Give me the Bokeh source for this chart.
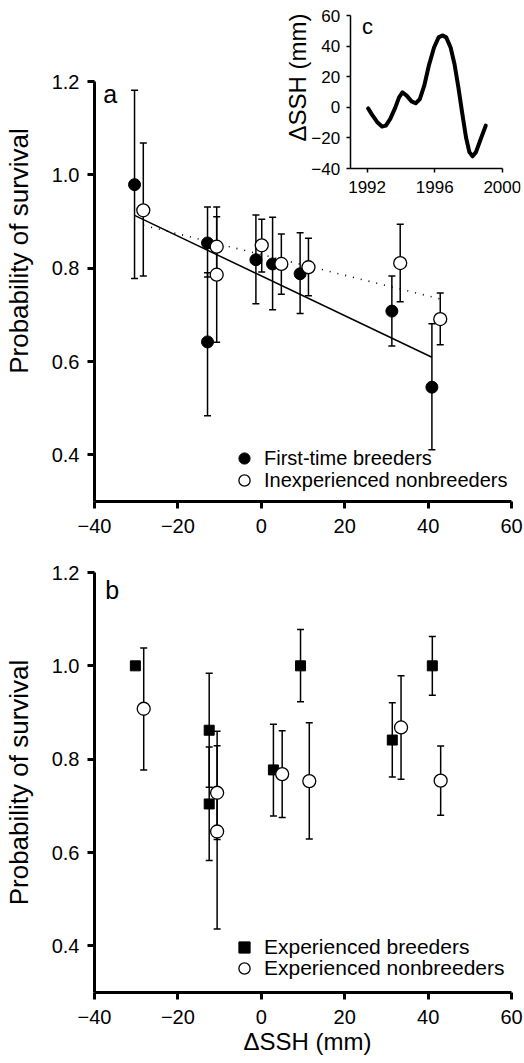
import numpy as np
from bokeh.plotting import figure
from bokeh.models import (ColumnDataSource, Range1d, LinearAxis, FixedTicker, Whisker,
                          TeeHead, Legend, LegendItem, Label, NumeralTickFormatter)
from bokeh.layouts import column
from bokeh.embed import file_html
from bokeh.resources import INLINE

FONT = "Liberation Sans"

# ---------------- data: panel a ----------------
ftb_x = [-30.4, -12.9, -12.9, -1.3, 2.7, 9.3, 31.3, 40.9]
ftb_y = [0.979, 0.854, 0.642, 0.818, 0.809, 0.788, 0.708, 0.545]
ftb_lo = [0.778, 0.781, 0.484, 0.724, 0.711, 0.703, 0.633, 0.411]
ftb_hi = [1.181, 0.931, 0.790, 0.914, 0.909, 0.876, 0.783, 0.681]

inb_x = [-28.3, -10.7, -10.7, 0.1, 4.8, 11.3, 33.3, 42.9]
inb_y = [0.924, 0.846, 0.786, 0.849, 0.809, 0.802, 0.811, 0.691]
inb_lo = [0.783, 0.780, 0.641, 0.792, 0.744, 0.741, 0.728, 0.636]
inb_hi = [1.068, 0.931, 0.910, 0.905, 0.873, 0.864, 0.894, 0.747]

fit_ftb_x = [-30.4, 40.9]
fit_ftb_y = [0.913, 0.609]
fit_inb_x = [-28.3, 42.9]
fit_inb_y = [0.892, 0.734]

# ---------------- data: panel b ----------------
eb_x = [-30.2, -12.5, -12.5, 2.9, 9.4, 31.4, 41.0]
eb_y = [1.000, 0.862, 0.704, 0.777, 1.000, 0.841, 1.000]
eb_lo = [None, 0.740, 0.583, 0.678, 0.923, 0.762, 0.937]
eb_hi = [None, 0.984, 0.826, 0.875, 1.078, 0.921, 1.063]

enb_x = [-28.2, -10.6, -10.6, 5.0, 11.5, 33.5, 43.0]
enb_y = [0.908, 0.728, 0.645, 0.768, 0.753, 0.868, 0.754]
enb_lo = [0.777, 0.628, 0.436, 0.675, 0.629, 0.757, 0.680]
enb_hi = [1.038, 0.860, 0.829, 0.861, 0.878, 0.979, 0.828]

# ---------------- data: inset c ----------------
inset_year = [1992.06, 1992.29, 1992.59, 1992.88, 1993.11, 1993.37, 1993.66, 1993.89,
              1994.09, 1994.34, 1994.63, 1994.87, 1995.12, 1995.38, 1995.65, 1995.96,
              1996.23, 1996.45, 1996.68, 1996.94, 1997.17, 1997.40, 1997.62, 1997.85,
              1998.05, 1998.24, 1998.44, 1998.69, 1999.02]
inset_ssh = [-0.7, -4.8, -9.6, -12.6, -12.0, -7.6, -0.4, 6.5,
             9.8, 7.6, 3.9, 2.6, 5.4, 14.1, 27.2, 39.1,
             45.7, 47.0, 45.7, 39.1, 28.3, 13.0, -3.3, -19.6,
             -29.3, -32.0, -29.3, -21.7, -12.0]

x_ticks = [-40, -20, 0, 20, 40, 60]
y_ticks = [0.4, 0.6, 0.8, 1.0, 1.2]
inset_x_ticks = [1992, 1996, 2000]
inset_y_ticks = [-40, -20, 0, 20, 40, 60]
minus = {t: ("\u2212" + str(abs(t)) if t < 0 else str(t)) for t in x_ticks + inset_y_ticks}

# ---------------- layout constants (pixels) ----------------
W = 524
BL, BR = 91, 4
FW = W - BL - BR
PX_PER_X = 420 / 100.0
X0, X1 = -40, 60
A_H, A_BT, A_BB = 544, 0, 43
B_H, B_BT, B_BB = 519, 28, 71
PX_PER_Y = 420 / 0.9
A_FH = A_H - A_BT - A_BB
# inset placement inside frame of panel a (frame-relative pixels)
IN_LEFT, IN_RIGHT = 257.5, 410.7       # 1991 .. 2000
IN_TOP, IN_BOTTOM = 15.0, 168.0        # 60 .. -40
IN_X0, IN_X1 = 1991, 2000
IN_Y0, IN_Y1 = -40, 60


def base_fig(height, bt, bb, y_end):
    p = figure(width=W, height=height, output_backend="svg", toolbar_location=None,
               x_range=Range1d(X0, X0 + FW / PX_PER_X), y_range=Range1d(0.3, y_end),
               x_axis_type=None, y_axis_type=None,
               min_border_left=BL, min_border_right=BR, min_border_top=bt, min_border_bottom=bb)
    p.grid.visible = False
    p.outline_line_color = None
    p.background_fill_color = "white"
    p.border_fill_color = "white"
    return p


def style_axis(ax, font_size, lw, tick_out, standoff):
    ax.axis_line_width = lw
    ax.axis_line_color = "black"
    ax.major_tick_line_width = lw
    ax.major_tick_line_color = "black"
    ax.major_tick_in = 0
    ax.major_tick_out = tick_out
    ax.minor_tick_line_color = None
    ax.major_label_text_font = FONT
    ax.major_label_text_font_size = font_size
    ax.major_label_text_color = "black"
    ax.major_label_standoff = standoff
    ax.axis_label_text_font = FONT
    ax.axis_label_text_font_style = "normal"
    ax.axis_label_text_color = "black"


def label_axis(text, size, standoff, bounds, **kw):
    """An axis that carries only a title (no line, no ticks)."""
    ax = LinearAxis(ticker=FixedTicker(ticks=[]), axis_label=text, bounds=bounds, **kw)
    ax.axis_line_color = None
    ax.major_tick_line_color = None
    ax.minor_tick_line_color = None
    ax.axis_label_text_font = FONT
    ax.axis_label_text_font_style = "normal"
    ax.axis_label_text_color = "black"
    ax.axis_label_text_font_size = size
    ax.axis_label_standoff = standoff
    return ax


def main_axes(p, xlabel=None, y_bounds=None, ylabel_bounds=None):
    xa = LinearAxis(ticker=FixedTicker(ticks=x_ticks), major_label_overrides=minus,
                    bounds=(X0, X1))
    style_axis(xa, "20px", 3, 7, 10)
    if xlabel:
        xa.axis_label = xlabel
        xa.axis_label_text_font_size = "24px"
        xa.axis_label_standoff = 1
    p.add_layout(xa, "below")
    ya = LinearAxis(ticker=FixedTicker(ticks=y_ticks), formatter=NumeralTickFormatter(format="0.0"))
    style_axis(ya, "20px", 3, 7, 8)
    if y_bounds:
        ya.bounds = y_bounds
    p.add_layout(ya, "left")
    p.add_layout(label_axis("Probability of survival", "26px", 15, ylabel_bounds or (0.3, 1.2)), "left")


def errorbars(p, xs, lo, hi):
    keep = [i for i in range(len(xs)) if lo[i] is not None]
    src = ColumnDataSource(dict(x=[xs[i] for i in keep], lower=[lo[i] for i in keep],
                                upper=[hi[i] for i in keep]))
    w = Whisker(base="x", lower="lower", upper="upper", source=src, line_width=1.5,
                line_color="black",
                upper_head=TeeHead(size=7, line_width=1.5, line_color="black"),
                lower_head=TeeHead(size=7, line_width=1.5, line_color="black"))
    p.add_layout(w)


def legend_entry(p, label, renderer, loc, size):
    lg = Legend(items=[LegendItem(label=label, renderers=[renderer])], location=loc,
                label_text_font=FONT, label_text_font_size=size,
                label_text_color="black", glyph_width=28, glyph_height=28, label_height=28,
                label_standoff=6, spacing=0, padding=0, margin=0,
                border_line_color=None, background_fill_alpha=0)
    p.add_layout(lg)


# ================= panel a =================
a_yend = 0.3 + A_FH / PX_PER_Y
pa = base_fig(A_H, A_BT, A_BB, a_yend)
main_axes(pa, y_bounds=(0.3, 1.2), ylabel_bounds=(0.4, 1.2))

errorbars(pa, ftb_x, ftb_lo, ftb_hi)
errorbars(pa, inb_x, inb_lo, inb_hi)
pa.line(fit_ftb_x, fit_ftb_y, line_color="black", line_width=1.5)
pa.line(fit_inb_x, fit_inb_y, line_color="black", line_width=1.6, line_dash="1 7")
r_ftb = pa.scatter(ftb_x, ftb_y, marker="circle", size=12, fill_color="black", line_color="black")
r_inb = pa.scatter(inb_x, inb_y, marker="circle", size=13, fill_color="white",
                   line_color="black", line_width=1.3)
legend_entry(pa, "First-time breeders", r_ftb, (136, 29), "20px")
legend_entry(pa, "Inexperienced nonbreeders", r_inb, (136, 7), "20px")
pa.add_layout(Label(x=-37.9, y=1.1736, text="a", text_font=FONT, text_font_size="25px",
                    text_baseline="alphabetic", text_color="black"))

# inset c (own ranges laid over panel a's frame)
ppx = (IN_RIGHT - IN_LEFT) / (IN_X1 - IN_X0)
ix0 = IN_X0 - IN_LEFT / ppx
ix1 = ix0 + FW / ppx
ppy = (IN_BOTTOM - IN_TOP) / (IN_Y1 - IN_Y0)
iy1 = IN_Y1 + IN_TOP / ppy
iy0 = iy1 - A_FH / ppy
pa.extra_x_ranges = {"ix": Range1d(ix0, ix1)}
pa.extra_y_ranges = {"iy": Range1d(iy0, iy1)}

pa.line(inset_year, inset_ssh, x_range_name="ix", y_range_name="iy", line_color="black",
        line_width=4, line_cap="round", line_join="round")

iya = LinearAxis(x_range_name="ix", y_range_name="iy", fixed_location=IN_X0, bounds=(IN_Y0, IN_Y1),
                 ticker=FixedTicker(ticks=inset_y_ticks), major_label_overrides=minus)
style_axis(iya, "17px", 1.5, 4, 6)
pa.add_layout(iya, "left")
pa.add_layout(label_axis("\u0394SSH (mm)", "24px", 40, (-21, IN_Y1), x_range_name="ix",
                         y_range_name="iy", fixed_location=IN_X0), "left")
ixa = LinearAxis(x_range_name="ix", y_range_name="iy", fixed_location=IN_Y0, bounds=(IN_X0, IN_X1),
                 ticker=FixedTicker(ticks=inset_x_ticks))
style_axis(ixa, "17px", 1.5, 4, 8)
pa.add_layout(ixa, "below")
pa.add_layout(Label(x=1991.7, y=52.8, x_range_name="ix", y_range_name="iy", text="c",
                    text_font=FONT, text_font_size="22px", text_baseline="alphabetic",
                    text_color="black"))

# ================= panel b =================
pb = base_fig(B_H, B_BT, B_BB, 1.2)
main_axes(pb, xlabel="\u0394SSH (mm)")
errorbars(pb, eb_x, eb_lo, eb_hi)
errorbars(pb, enb_x, enb_lo, enb_hi)
r_eb = pb.scatter(eb_x, eb_y, marker="square", size=10, fill_color="black", line_color="black")
r_enb = pb.scatter(enb_x, enb_y, marker="circle", size=13, fill_color="white",
                   line_color="black", line_width=1.3)
legend_entry(pb, "Experienced breeders", r_eb, (136, 31), "21px")
legend_entry(pb, "Experienced nonbreeders", r_enb, (136, 10), "21px")
pb.add_layout(Label(x=-37.45, y=1.1635, text="b", text_font=FONT, text_font_size="25px",
                    text_baseline="alphabetic", text_color="black"))

layout = column(pa, pb, spacing=0)
open("out.html", "w").write(file_html(layout, INLINE))
